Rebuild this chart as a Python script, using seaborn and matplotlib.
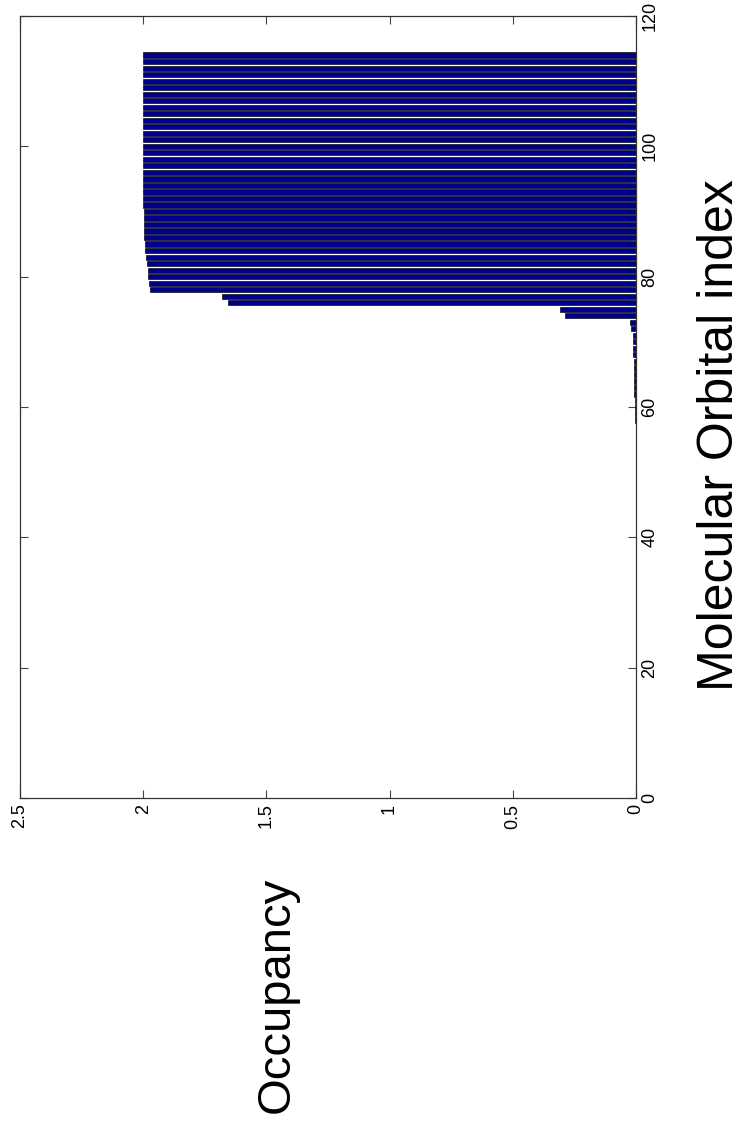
import matplotlib
matplotlib.use("Agg")
import matplotlib.pyplot as plt
import seaborn as sns
import pandas as pd

# ---- data -------------------------------------------------------------
orbital_index = list(range(18, 115))
occupancy = [
    # 18-30
    0.0004, 0.0004, 0.0004, 0.0004, 0.0004, 0.0004, 0.0004, 0.0004, 0.0004, 0.0004, 0.0004, 0.0004, 0.0004,
    # 31-40
    0.0006, 0.0006, 0.0006, 0.0006, 0.0006, 0.0006, 0.0006, 0.0006, 0.0006, 0.0006,
    # 41-50
    0.001, 0.001, 0.001, 0.001, 0.001, 0.001, 0.001, 0.001, 0.001, 0.001,
    # 51-57
    0.0015, 0.0015, 0.0015, 0.0015, 0.0015, 0.0015, 0.0015,
    # 58-61
    0.003, 0.003, 0.003, 0.003,
    # 62-67
    0.0065, 0.007, 0.0075, 0.008, 0.009, 0.0095,
    # 68-71
    0.011, 0.012, 0.013, 0.014,
    # 72-73
    0.022, 0.026,
    # 74-75
    0.29, 0.31,
    # 76-77
    1.655, 1.68,
    # 78-91
    1.974, 1.976, 1.979, 1.982, 1.986, 1.989, 1.992, 1.994, 1.995, 1.996, 1.997, 1.998, 1.998, 1.999,
    # 92-114
    1.9992, 1.9993, 1.9994, 1.9995, 1.9996, 1.9996, 1.9997, 1.9997, 1.9998, 1.9998, 1.9998, 1.9999,
    1.9999, 1.9999, 1.9999, 2.0, 2.0, 2.0, 2.0, 2.0, 2.0, 2.0, 2.0,
]
occ_ticks = [0, 0.5, 1, 1.5, 2, 2.5]
occ_ticklabels = ["0", "0.5", "1", "1.5", "2", "2.5"]
mo_ticks = [0, 20, 40, 60, 80, 100, 120]
mo_ticklabels = ["0", "20", "40", "60", "80", "100", "120"]
mo_label = "Molecular Orbital index"
occ_label = "Occupancy"

df = pd.DataFrame({"index": orbital_index, "occ": occupancy})

# ---- figure -----------------------------------------------------------
sns.set_style("white")
plt.rcParams["font.family"] = ["Liberation Sans", "DejaVu Sans"]
plt.rcParams["text.color"] = "black"

W, H = 741, 1131
fig = plt.figure(figsize=(W / 100, H / 100), dpi=100)
ax = fig.add_axes([20 / W, 1 - 798 / H, (636 - 20) / W, (798 - 16) / H])

sns.barplot(data=df, x="occ", y="index", orient="h", native_scale=True,
            width=0.8, color="#00008a", saturation=1, edgecolor="black",
            linewidth=0.45, ax=ax)

ax.set_xlim(2.5, 0)
ax.set_ylim(0, 120)

ax.set_xticks(occ_ticks)
ax.set_xticklabels(occ_ticklabels, rotation=90, fontsize=13)
ax.set_yticks(mo_ticks)
ax.set_yticklabels(mo_ticklabels, rotation=90, fontsize=13, va="center")

ax.yaxis.tick_right()
ax.tick_params(axis="both", which="both", direction="in", length=6, width=0.8,
               color="#444444", labelcolor="black", pad=4,
               top=True, bottom=True, left=True, right=True,
               labelleft=False, labelright=True, labeltop=False, labelbottom=True)
for s in ax.spines.values():
    s.set_visible(True)
    s.set_color("#333333")
    s.set_linewidth(0.9)
ax.set_xlabel("")
ax.set_ylabel("")

fig.text(720 / W, 1 - 435 / H, mo_label, rotation=90, ha="center", va="center",
         fontsize=36, color="black")
fig.text(277 / W, 1 - 995 / H, occ_label, rotation=90, ha="center", va="center",
         fontsize=34, color="black")

fig.savefig("out.png", dpi=100, facecolor="white")
